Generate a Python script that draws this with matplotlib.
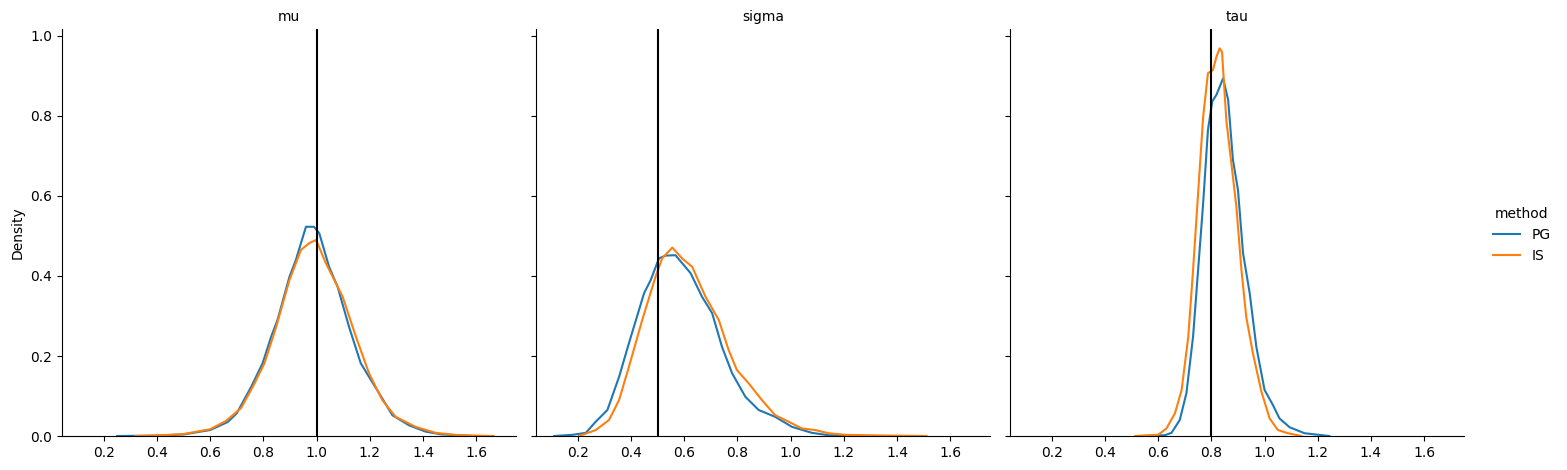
import matplotlib.pyplot as plt

# parameters (facets) and their true values
params = ["mu", "sigma", "tau"]
true_values = [1.0, 0.5, 0.8]
methods = ["PG", "IS"]
colors = {"PG": "#1f77b4", "IS": "#ff7f0e"}

# density curves: (x, density)
mu_pg_x = [0.25, 0.40, 0.50, 0.60, 0.666, 0.70, 0.754, 0.797, 0.829, 0.853, 0.898, 0.922,
           0.96, 0.99, 1.01, 1.047, 1.079, 1.122, 1.166, 1.197, 1.235, 1.285, 1.347, 1.41,
           1.47, 1.535, 1.60]
mu_pg_y = [0.0, 0.001, 0.004, 0.015, 0.035, 0.057, 0.123, 0.182, 0.248, 0.29, 0.398, 0.44,
           0.523, 0.523, 0.507, 0.423, 0.373, 0.273, 0.182, 0.148, 0.107, 0.052, 0.027, 0.011,
           0.004, 0.002, 0.0]
mu_is_x = [0.32, 0.42, 0.50, 0.60, 0.66, 0.716, 0.76, 0.804, 0.848, 0.898, 0.941, 0.972,
           0.998, 1.035, 1.098, 1.148, 1.197, 1.247, 1.297, 1.372, 1.447, 1.535, 1.666]
mu_is_y = [0.0, 0.002, 0.005, 0.017, 0.038, 0.07, 0.123, 0.182, 0.273, 0.39, 0.465, 0.482,
           0.49, 0.432, 0.348, 0.248, 0.157, 0.09, 0.048, 0.023, 0.008, 0.002, 0.0]

sigma_pg_x = [0.111, 0.18, 0.23, 0.2675, 0.311, 0.355, 0.392, 0.449, 0.474, 0.505, 0.53,
              0.567, 0.624, 0.667, 0.705, 0.742, 0.78, 0.83, 0.88, 0.942, 1.005, 1.08, 1.142,
              1.25, 1.5]
sigma_pg_y = [0.0, 0.003, 0.008, 0.036, 0.065, 0.148, 0.232, 0.357, 0.39, 0.444, 0.451,
              0.452, 0.407, 0.348, 0.307, 0.223, 0.157, 0.098, 0.065, 0.048, 0.023, 0.008,
              0.002, 0.0005, 0.0]
sigma_is_x = [0.205, 0.2675, 0.317, 0.355, 0.392, 0.442, 0.492, 0.517, 0.555, 0.592, 0.63,
              0.68, 0.73, 0.767, 0.798, 0.842, 0.892, 0.942, 0.992, 1.042, 1.092, 1.142,
              1.205, 1.35, 1.511]
sigma_is_y = [0.0, 0.015, 0.04, 0.09, 0.173, 0.29, 0.398, 0.444, 0.471, 0.444, 0.423, 0.348,
              0.29, 0.215, 0.165, 0.132, 0.09, 0.052, 0.036, 0.019, 0.015, 0.007, 0.003,
              0.001, 0.0]

tau_pg_x = [0.53, 0.625, 0.65, 0.681, 0.706, 0.731, 0.75, 0.769, 0.787, 0.803, 0.819, 0.844,
            0.863, 0.881, 0.90, 0.919, 0.944, 0.969, 1.0, 1.031, 1.056, 1.094, 1.15, 1.244]
tau_pg_y = [0.0, 0.002, 0.008, 0.04, 0.107, 0.248, 0.415, 0.582, 0.765, 0.836, 0.853, 0.894,
            0.84, 0.69, 0.615, 0.457, 0.357, 0.223, 0.115, 0.078, 0.044, 0.022, 0.007, 0.0]
tau_is_x = [0.513, 0.60, 0.631, 0.663, 0.688, 0.713, 0.731, 0.75, 0.769, 0.787, 0.806, 0.819,
            0.831, 0.84, 0.856, 0.875, 0.894, 0.913, 0.931, 0.956, 0.988, 1.019, 1.05, 1.088,
            1.138]
tau_is_y = [0.0, 0.003, 0.019, 0.057, 0.115, 0.248, 0.415, 0.607, 0.798, 0.907, 0.915, 0.948,
            0.969, 0.96, 0.79, 0.682, 0.573, 0.415, 0.298, 0.207, 0.111, 0.044, 0.015, 0.007,
            0.0]

curves = {
    "mu": {"PG": (mu_pg_x, mu_pg_y), "IS": (mu_is_x, mu_is_y)},
    "sigma": {"PG": (sigma_pg_x, sigma_pg_y), "IS": (sigma_is_x, sigma_is_y)},
    "tau": {"PG": (tau_pg_x, tau_pg_y), "IS": (tau_is_x, tau_is_y)},
}

fig, axes = plt.subplots(1, 3, figsize=(15.67, 4.7), dpi=100, sharex=True, sharey=True)
fig.subplots_adjust(left=62 / 1567, right=1464 / 1567, bottom=0.0723, top=0.938, wspace=0.044)

for ax, p, tv in zip(axes, params, true_values):
    for m in methods:
        x, y = curves[p][m]
        ax.plot(x, y, color=colors[m], lw=1.5, label=m)
    ax.axvline(tv, color="black", lw=1.5)
    ax.set_title(p, fontsize=10)
    ax.spines["top"].set_visible(False)
    ax.spines["right"].set_visible(False)

axes[0].set_xlim(0.0425, 1.75)
axes[0].set_ylim(0, 1.017)
axes[0].set_xticks([0.2, 0.4, 0.6, 0.8, 1.0, 1.2, 1.4, 1.6])
axes[0].set_yticks([0.0, 0.2, 0.4, 0.6, 0.8, 1.0])
axes[0].set_ylabel("Density")

handles, labels = axes[0].get_legend_handles_labels()
fig.legend(handles, labels, title="method", loc="center left",
           bbox_to_anchor=(1480 / 1567, 0.5), frameon=False)

fig.savefig("out.png", dpi=100)
